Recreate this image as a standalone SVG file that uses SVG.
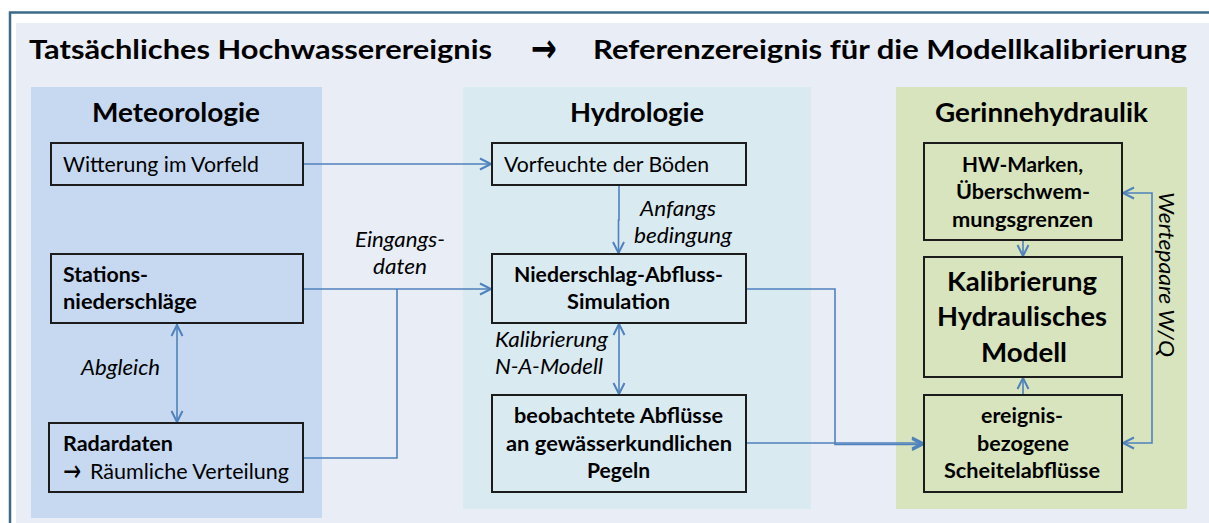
<svg xmlns="http://www.w3.org/2000/svg" width="1209" height="523" viewBox="0 0 1209 523">
<style>
text{font-family:Lato,"Liberation Sans",sans-serif;fill:#000}
.h{font-weight:bold;font-size:27px}
.pt{font-weight:bold;font-size:27.5px;text-anchor:middle}
.r{font-size:21px}
.b{font-size:21px;font-weight:bold}
.i{font-size:21px;font-style:italic}
.c{text-anchor:middle}
.big{font-size:26px;font-weight:bold;text-anchor:middle}
.arr{font-family:"DejaVu Sans",sans-serif}
.box{fill:none;stroke:#1c1c1c;stroke-width:2}
.con{fill:none;stroke:#4f81bd;stroke-width:1.6}
</style>
<defs>
<marker id="ah" markerUnits="userSpaceOnUse" markerWidth="16" markerHeight="16" viewBox="-14 -8 16 16" refX="0" refY="0" orient="auto-start-reverse">
<path d="M-12,-5.5 L-1,0 L-12,5.5" fill="none" stroke="#4f81bd" stroke-width="2"/>
</marker>
</defs>
<rect x="0" y="0" width="1209" height="523" fill="#ffffff"/>
<rect x="16" y="23" width="1193" height="500" fill="#e9eef6"/>
<path d="M1209,12.5 H10 V523" fill="none" stroke="#3b6986" stroke-width="2.5"/>

<g id="header">
<text class="h" x="29" y="59" textLength="463" lengthAdjust="spacingAndGlyphs">Tatsächliches Hochwasserereignis</text>
<text class="arr" x="531" y="62" font-size="40" font-weight="bold" textLength="26" lengthAdjust="spacingAndGlyphs">→</text>
<text class="h" x="593" y="59" textLength="594" lengthAdjust="spacingAndGlyphs">Referenzereignis für die Modellkalibrierung</text>
</g>

<g id="panel-meteorologie">
<rect x="31" y="87" width="291" height="431" fill="#c6d9f0"/>
<text class="pt" x="176" y="122" textLength="168" lengthAdjust="spacingAndGlyphs">Meteorologie</text>
</g>
<g id="panel-hydrologie">
<rect x="463" y="87" width="348" height="422" fill="#daeaf1"/>
<text class="pt" x="637" y="122" textLength="134" lengthAdjust="spacingAndGlyphs">Hydrologie</text>
</g>
<g id="panel-gerinnehydraulik">
<rect x="896" y="87" width="291" height="422" fill="#d7e4bd"/>
<text class="pt" x="1041.5" y="122" textLength="213" lengthAdjust="spacingAndGlyphs">Gerinnehydraulik</text>
</g>

<g id="connectors">
<path class="con" d="M303,164 H492" marker-end="url(#ah)"/>
<path class="con" d="M303,289 H492" marker-end="url(#ah)"/>
<path class="con" d="M303,458 H397 V289"/>
<path class="con" d="M177,324 V423" marker-start="url(#ah)" marker-end="url(#ah)"/>
<path class="con" d="M619,185 V220 H618.5 V254" marker-end="url(#ah)"/>
<path class="con" d="M619,323 V395" marker-start="url(#ah)" marker-end="url(#ah)"/>
<path class="con" d="M746,289 H835 V444.5 H924" marker-end="url(#ah)"/>
<path class="con" d="M746,443 H924" marker-end="url(#ah)"/>
<path class="con" d="M1023,240 V257" marker-end="url(#ah)"/>
<path class="con" d="M1023,395 V377" marker-end="url(#ah)"/>
<path class="con" d="M1122,443 H1152 V193 H1122" marker-start="url(#ah)" marker-end="url(#ah)"/>
<text class="i c" x="400" y="247" textLength="90" lengthAdjust="spacingAndGlyphs">Eingangs-</text>
<text class="i c" x="400" y="274" textLength="54" lengthAdjust="spacingAndGlyphs">daten</text>
<text class="i" x="81" y="375" textLength="79" lengthAdjust="spacingAndGlyphs">Abgleich</text>
<text class="i" x="640" y="216" textLength="76" lengthAdjust="spacingAndGlyphs">Anfangs</text>
<text class="i" x="634" y="243" textLength="98" lengthAdjust="spacingAndGlyphs">bedingung</text>
<text class="i" x="495" y="347" textLength="113" lengthAdjust="spacingAndGlyphs">Kalibrierung</text>
<text class="i" x="495" y="374" textLength="108" lengthAdjust="spacingAndGlyphs">N-A-Modell</text>
<text class="i c" transform="translate(1159,274.5) rotate(90)" x="0" y="0" textLength="165" lengthAdjust="spacingAndGlyphs">Wertepaare W/Q</text>
</g>

<g id="witterung">
<rect class="box" x="51" y="143" width="252" height="42"/>
<text class="r" x="63" y="172" textLength="196" lengthAdjust="spacingAndGlyphs">Witterung im Vorfeld</text>
</g>
<g id="stationsniederschlaege">
<rect class="box" x="51" y="254" width="252" height="69"/>
<text class="b" x="63" y="282" textLength="85" lengthAdjust="spacingAndGlyphs">Stations-</text>
<text class="b" x="63" y="309" textLength="134" lengthAdjust="spacingAndGlyphs">niederschläge</text>
</g>
<g id="radardaten">
<rect class="box" x="49" y="423" width="254" height="69"/>
<text class="b" x="63" y="451" textLength="110" lengthAdjust="spacingAndGlyphs">Radardaten</text>
<text class="arr" x="63" y="481" font-size="30" textLength="18" lengthAdjust="spacingAndGlyphs">→</text>
<text class="r" x="90" y="479" textLength="199" lengthAdjust="spacingAndGlyphs">Räumliche Verteilung</text>
</g>

<g id="vorfeuchte">
<rect class="box" x="492" y="143" width="254" height="42"/>
<text class="r" x="504" y="172" textLength="205" lengthAdjust="spacingAndGlyphs">Vorfeuchte der Böden</text>
</g>
<g id="na-simulation">
<rect class="box" x="492" y="254" width="254" height="69"/>
<text class="b c" x="618.5" y="282" textLength="209" lengthAdjust="spacingAndGlyphs">Niederschlag-Abfluss-</text>
<text class="b c" x="618.5" y="309" textLength="103" lengthAdjust="spacingAndGlyphs">Simulation</text>
</g>
<g id="beobachtete-abfluesse">
<rect class="box" x="492" y="395" width="254" height="97"/>
<text class="b c" x="618.5" y="423" textLength="209" lengthAdjust="spacingAndGlyphs">beobachtete Abflüsse</text>
<text class="b c" x="619" y="451" textLength="226" lengthAdjust="spacingAndGlyphs">an gewässerkundlichen</text>
<text class="b c" x="618.5" y="478" textLength="63" lengthAdjust="spacingAndGlyphs">Pegeln</text>
</g>

<g id="hw-marken">
<rect class="box" x="924" y="143" width="198" height="97"/>
<text class="b c" x="1022.5" y="172" textLength="121" lengthAdjust="spacingAndGlyphs">HW-Marken,</text>
<text class="b c" x="1023" y="199" textLength="134" lengthAdjust="spacingAndGlyphs">Überschwem-</text>
<text class="b c" x="1022.5" y="227" textLength="141" lengthAdjust="spacingAndGlyphs">mungsgrenzen</text>
</g>
<g id="kalibrierung-hydraulisches-modell">
<rect class="box" x="924" y="257" width="198" height="120"/>
<text class="big" x="1022" y="291" textLength="150" lengthAdjust="spacingAndGlyphs">Kalibrierung</text>
<text class="big" x="1022" y="326" textLength="170" lengthAdjust="spacingAndGlyphs">Hydraulisches</text>
<text class="big" x="1024" y="362" textLength="86" lengthAdjust="spacingAndGlyphs">Modell</text>
</g>
<g id="scheitelabfluesse">
<rect class="box" x="924" y="395" width="198" height="97"/>
<text class="b c" x="1022" y="423" textLength="82" lengthAdjust="spacingAndGlyphs">ereignis-</text>
<text class="b c" x="1023" y="451" textLength="92" lengthAdjust="spacingAndGlyphs">bezogene</text>
<text class="b c" x="1022" y="478" textLength="156" lengthAdjust="spacingAndGlyphs">Scheitelabflüsse</text>
</g>
</svg>
